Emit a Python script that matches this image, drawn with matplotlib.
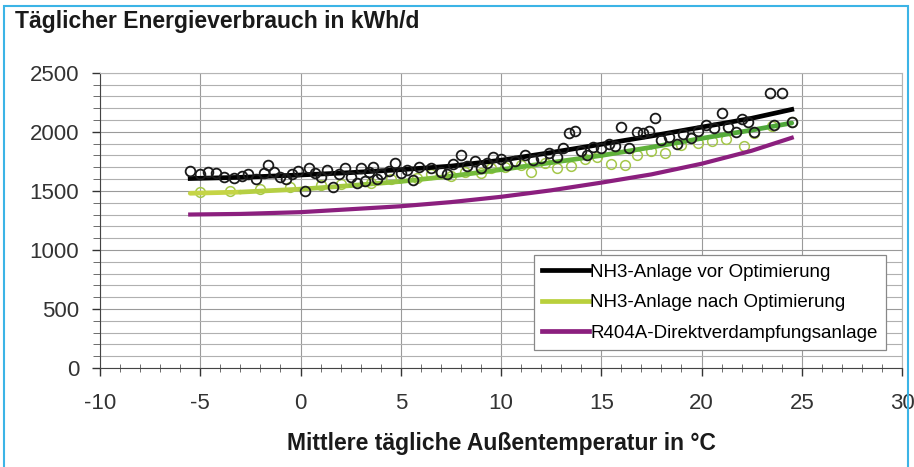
import matplotlib
matplotlib.use('Agg')
import matplotlib.pyplot as plt
import numpy as np
from matplotlib.patches import Rectangle
from matplotlib.lines import Line2D
from matplotlib.collections import LineCollection
from matplotlib.colors import LinearSegmentedColormap
from matplotlib.ticker import MultipleLocator

plt.rcParams['font.family'] = ['Liberation Sans', 'DejaVu Sans']
plt.rcParams['axes.unicode_minus'] = False

# fitted curves
curve_x = [-5.5, -3, 0, 2.5, 5, 7.5, 10, 12.5, 15, 17.5, 20, 22.5, 24.5]
nh3_vor = [1605, 1615, 1635, 1655, 1680, 1710, 1760, 1825, 1895, 1965, 2040, 2115, 2190]
nh3_nach = [1480, 1490, 1515, 1545, 1580, 1625, 1680, 1740, 1800, 1870, 1945, 2015, 2075]
r404a = [1300, 1305, 1320, 1345, 1370, 1405, 1450, 1505, 1570, 1640, 1730, 1840, 1950]

# measured daily values, before optimisation
vor_t = [-5.5, -5.0, -4.6, -4.2, -3.8, -3.3, -2.9, -2.6, -2.2, -1.8, -1.6, -1.3, -1.0,
         -0.7, -0.4, -0.1, 0.2, 0.4, 0.7, 1.0, 1.3, 1.6, 1.9, 2.2, 2.5, 2.8, 3.0, 3.2,
         3.4, 3.6, 3.8, 4.0, 4.4, 4.7, 5.0, 5.3, 5.6, 5.9, 6.5, 7.0, 7.3, 7.6, 8.0,
         8.3, 8.7, 9.0, 9.3, 9.6, 10.0, 10.3, 10.7, 11.2, 11.6, 12.0, 12.4, 12.8,
         13.1, 13.4, 13.7, 14.0, 14.3, 14.6, 15.0, 15.4, 15.7, 16.0, 16.4, 16.8,
         17.1, 17.4, 17.7, 18.0, 18.4, 18.8, 19.1, 19.5, 19.8, 20.2, 20.6, 21.0,
         21.3, 21.7, 22.0, 22.3, 22.6, 23.4, 24.0, 23.6, 24.5]
vor_e = [1665, 1640, 1660, 1650, 1615, 1610, 1625, 1640, 1600, 1650, 1720, 1660, 1620,
         1600, 1640, 1670, 1500, 1690, 1650, 1620, 1680, 1530, 1640, 1690, 1620, 1570,
         1690, 1580, 1660, 1700, 1600, 1640, 1670, 1740, 1650, 1680, 1590, 1700, 1690,
         1660, 1640, 1730, 1800, 1710, 1750, 1690, 1740, 1790, 1770, 1720, 1750, 1800,
         1760, 1780, 1820, 1790, 1860, 1990, 2010, 1840, 1800, 1870, 1860, 1900, 1880,
         2040, 1860, 2000, 1990, 2010, 2120, 1930, 1960, 1900, 1980, 1950, 2010, 2060,
         2030, 2160, 2040, 2000, 2110, 2080, 2000, 2330, 2330, 2060, 2080]

# measured daily values, after optimisation
nach_t = [-5.0, -3.5, -2.0, -0.5, 1.0, 2.0, 3.5, 4.5, 5.8, 6.5, 7.5, 8.2, 9.0, 9.5,
          10.2, 11.0, 11.5, 12.2, 12.8, 13.5, 14.2, 14.8, 15.5, 16.2, 16.8, 17.5,
          18.2, 19.0, 19.8, 20.5, 21.2, 22.1, 22.6, 23.5, 24.5]
nach_e = [1490, 1500, 1520, 1530, 1550, 1560, 1570, 1600, 1610, 1640, 1630, 1660,
          1650, 1690, 1700, 1720, 1660, 1740, 1690, 1710, 1770, 1790, 1730, 1720,
          1800, 1840, 1820, 1890, 1910, 1920, 1940, 1880, 1990, 2050, 2080]

labels = ['NH3-Anlage vor Optimierung', 'NH3-Anlage nach Optimierung',
          'R404A-Direktverdampfungsanlage']

fig = plt.figure(figsize=(9.14, 4.67), dpi=100)
ax = fig.add_axes([0.1094, 0.212, 0.8775, 0.632])

ax.plot(nach_t, nach_e, 'o', mfc='none', mec='#a5c84a', ms=7, mew=1.1, zorder=3)

# green fit line shades from yellow-green to green, like the scan
green_cmap = LinearSegmentedColormap.from_list('g', ['#c5d445', '#6cb83a', '#4fa83a'])
pts = np.column_stack([curve_x, nh3_nach])
segs = np.stack([pts[:-1], pts[1:]], axis=1)
lc = LineCollection(segs, cmap=green_cmap, linewidths=3.4, capstyle='round', zorder=4)
lc.set_array(np.linspace(0, 1, len(segs)))
ax.add_collection(lc)

ax.plot(curve_x, r404a, color='#8b1f7e', lw=3.0, zorder=4)
ax.plot(curve_x, nh3_vor, color='black', lw=3.4, zorder=5)
ax.plot(vor_t, vor_e, 'o', mfc='none', mec='#1a1a1a', ms=7, mew=1.3, zorder=6)

ax.set_xlim(-10, 30)
ax.set_ylim(0, 2500)
ax.xaxis.set_major_locator(MultipleLocator(5))
ax.xaxis.set_minor_locator(MultipleLocator(1))
ax.yaxis.set_major_locator(MultipleLocator(500))
ax.yaxis.set_minor_locator(MultipleLocator(100))
ax.grid(True, which='major', color='#9a9a9a', lw=0.8)
ax.grid(True, which='minor', axis='y', color='#b0b0b0', lw=0.8)
ax.set_axisbelow(True)

ax.tick_params(axis='both', which='major', labelsize=16, colors='#333333',
               length=6, width=1)
ax.tick_params(axis='x', which='major', pad=12)
ax.tick_params(axis='y', which='major', pad=9)
ax.tick_params(axis='x', which='minor', direction='inout', length=6, color='#555555')
ax.tick_params(axis='y', which='minor', direction='out', length=5, color='#555555')
for s in ['left', 'bottom']:
    ax.spines[s].set_color('#444444')
for s in ['top', 'right']:
    ax.spines[s].set_color('#b5b5b5')

ax.set_xlabel('Mittlere tägliche Außentemperatur in °C', fontsize=16.5,
              fontweight='bold', color='#1a1a1a', labelpad=13)
fig.text(0.016, 0.953, 'Täglicher Energieverbrauch in kWh/d', fontsize=16.5,
         fontweight='bold', color='#1a1a1a', va='center', ha='left')

handles = [Line2D([], [], color='black', lw=3.4),
           Line2D([], [], color='#b9d03c', lw=3.4),
           Line2D([], [], color='#8b1f7e', lw=3.4)]
leg = ax.legend(handles, labels, loc='upper left', bbox_to_anchor=(0.541, 0.383),
                fontsize=13.5, handlelength=2.5, handletextpad=0.05, labelspacing=0.72,
                borderpad=0.45, borderaxespad=0, fancybox=False, framealpha=1,
                edgecolor='#888888')
leg.get_frame().set_linewidth(0.9)

fig.patches.append(Rectangle((0.004, -0.01), 0.989, 0.998, transform=fig.transFigure,
                             fill=False, edgecolor='#3cb4e6', lw=1.5))

fig.savefig('out.png', dpi=100)
